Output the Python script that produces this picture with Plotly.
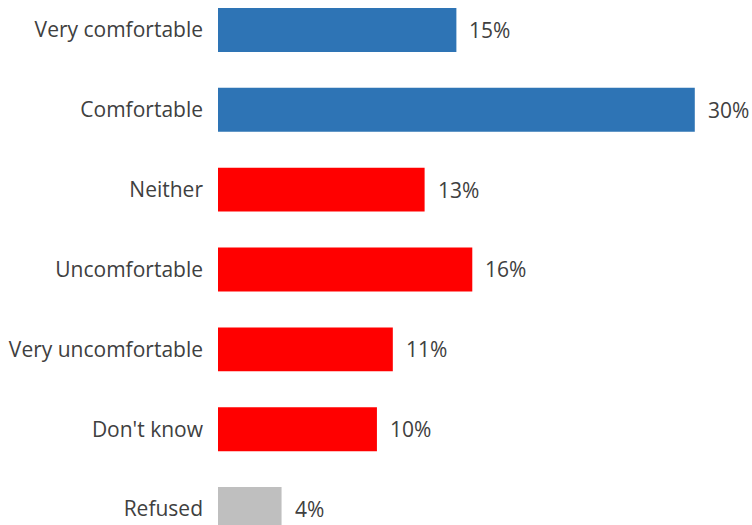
import plotly.graph_objects as go

categories = ["Very comfortable", "Comfortable", "Neither", "Uncomfortable",
              "Very uncomfortable", "Don't know", "Refused"]
values = [15, 30, 13, 16, 11, 10, 4]
colors = ["#2E74B5", "#2E74B5", "#FF0000", "#FF0000", "#FF0000", "#FF0000", "#BFBFBF"]
labels = [f"{v}%" for v in values]

font_family = "Open Sans, Noto Sans, sans-serif"
text_color = "#404040"

fig = go.Figure()
fig.add_trace(go.Bar(
    x=values, y=categories, orientation="h",
    marker=dict(color=colors, line=dict(width=0)),
    width=0.55,
    hoverinfo="skip",
))

for c, v, t in zip(categories, values, labels):
    fig.add_annotation(x=v, y=c, text=t, showarrow=False, xanchor="left",
                       xshift=11, font=dict(size=21, color=text_color, family=font_family))

fig.update_layout(
    width=752, height=525,
    margin=dict(l=218, r=0, t=0, b=0),
    paper_bgcolor="white", plot_bgcolor="white",
    showlegend=False,
    font=dict(family=font_family, size=21, color=text_color),
    xaxis=dict(range=[0, 33.6], visible=False, fixedrange=True),
    yaxis=dict(type="category", categoryarray=categories, range=[6.2, -0.375],
               showgrid=False, zeroline=False, showline=False, ticks="",
               ticklabelstandoff=14, tickfont=dict(size=21, color=text_color)),
)

fig.write_html("out.html",
               config={"displayModeBar": False, "staticPlot": True},
               post_script="document.body.style.margin='0';document.body.style.overflow='hidden';")
